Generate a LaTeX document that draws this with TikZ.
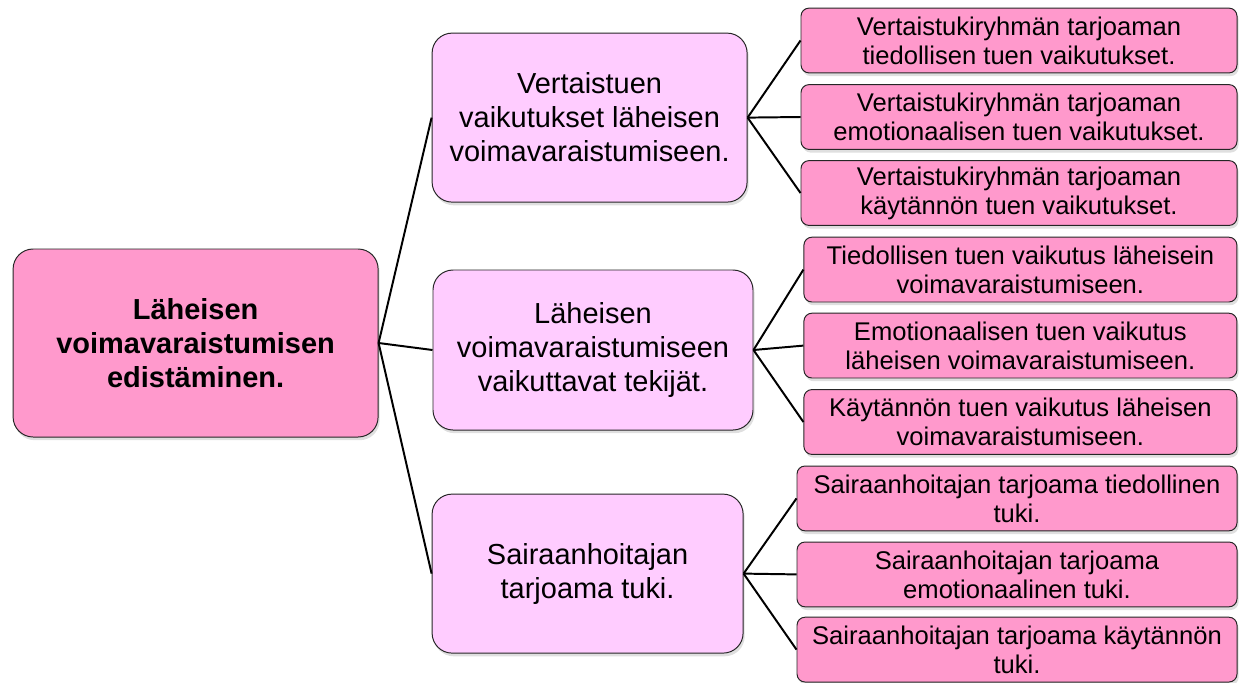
\documentclass[tikz,border=0pt]{standalone}
\usepackage{fontspec}
\setmainfont{Liberation Sans}
\usetikzlibrary{shadows}
\definecolor{darkpink}{RGB}{255,153,204}
\definecolor{lightpink}{RGB}{255,204,255}
\tikzset{
  box/.style={draw=black!85, line width=0.7pt, align=center, inner sep=2pt,
    drop shadow={opacity=0.25, shadow xshift=0.04cm, shadow yshift=-0.08cm}},
  rootbox/.style={box, fill=darkpink, rounded corners=0.5cm,
    minimum width=9.125cm, minimum height=4.7cm,
    font=\fontsize{20.6}{24.2}\selectfont\bfseries},
  midbox/.style={box, fill=lightpink, rounded corners=0.5cm,
    font=\fontsize{20.6}{24.2}\selectfont},
  leafbox/.style={box, fill=darkpink, rounded corners=0.2cm,
    minimum height=1.62cm, font=\fontsize{18.2}{20.7}\selectfont},
  link/.style={line width=1.4pt}
}
\begin{document}
\begin{tikzpicture}
\useasboundingbox (0,0) rectangle (31.05,-17.05);
\node[rootbox] (root) at (4.89,-8.575) {Läheisen\\voimavaraistumisen\\edistäminen.};
\node[midbox, minimum width=7.875cm, minimum height=4.225cm] (mid1) at (14.74,-2.94)
    {Vertaistuen\\vaikutukset läheisen\\voimavaraistumiseen.};
\node[midbox, minimum width=8.0cm, minimum height=4.0cm] (mid2) at (14.825,-8.75)
    {Läheisen\\voimavaraistumiseen\\vaikuttavat tekijät.};
\node[midbox, minimum width=7.775cm, minimum height=3.975cm] (mid3) at (14.69,-14.34)
    {Sairaanhoitajan\\tarjoama tuki.};
\node[leafbox, minimum width=10.9cm] (leaf1) at (25.475,-1.0125)
    {Vertaistukiryhmän tarjoaman\\tiedollisen tuen vaikutukset.};
\node[leafbox, minimum width=10.9cm] (leaf2) at (25.475,-2.925)
    {Vertaistukiryhmän tarjoaman\\emotionaalisen tuen vaikutukset.};
\node[leafbox, minimum width=10.9cm] (leaf3) at (25.475,-4.825)
    {Vertaistukiryhmän tarjoaman\\käytännön tuen vaikutukset.};
\node[leafbox, minimum width=10.825cm] (leaf4) at (25.51,-6.74)
    {Tiedollisen tuen vaikutus läheisein\\voimavaraistumiseen.};
\node[leafbox, minimum width=10.825cm] (leaf5) at (25.51,-8.64)
    {Emotionaalisen tuen vaikutus\\läheisen voimavaraistumiseen.};
\node[leafbox, minimum width=10.825cm] (leaf6) at (25.51,-10.55)
    {Käytännön tuen vaikutus läheisen\\voimavaraistumiseen.};
\node[leafbox, minimum width=11.0cm] (leaf7) at (25.425,-12.46)
    {Sairaanhoitajan tarjoama tiedollinen\\tuki.};
\node[leafbox, minimum width=11.0cm] (leaf8) at (25.425,-14.36)
    {Sairaanhoitajan tarjoama\\emotionaalinen tuki.};
\node[leafbox, minimum width=11.0cm] (leaf9) at (25.425,-16.24)
    {Sairaanhoitajan tarjoama käytännön\\tuki.};
\foreach \m in {mid1, mid2, mid3}
    \draw[link] (root.east) -- (\m.west);
\foreach \m/\l in {mid1/leaf1, mid1/leaf2, mid1/leaf3, mid2/leaf4, mid2/leaf5,
                   mid2/leaf6, mid3/leaf7, mid3/leaf8, mid3/leaf9}
    \draw[link] (\m.east) -- (\l.west);
\end{tikzpicture}
\end{document}
